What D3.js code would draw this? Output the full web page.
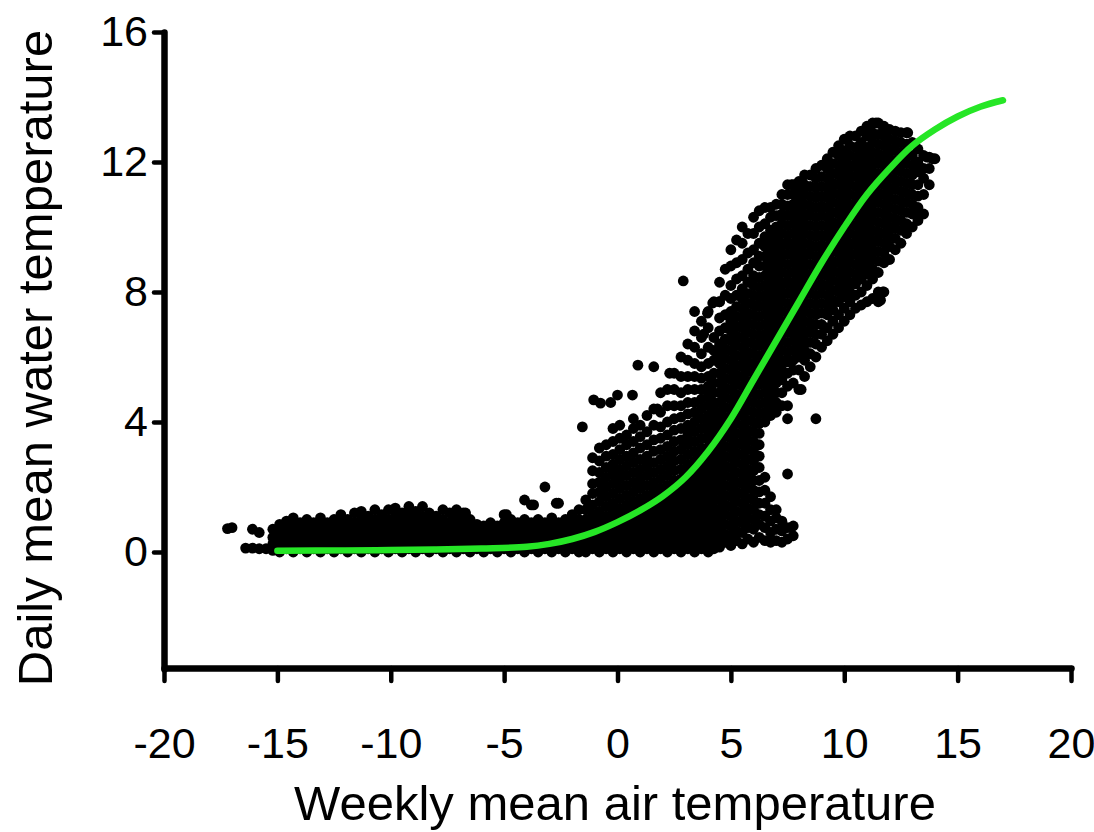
<!DOCTYPE html>
<html><head><meta charset="utf-8">
<script src="https://cdn.jsdelivr.net/npm/d3@7"></script>
<style>body{margin:0;background:#fff}svg{display:block}</style>
</head><body>
<svg id="chart" width="1094" height="832"></svg>
<script>
// Axis ticks
const xTicks = [-20,-15,-10,-5,0,5,10,15,20];
const yTicks = [0,4,8,12,16];

// Fitted curve
const fitAir   = [-15,-12,-10,-8,-6,-4,-3,-2,-1,0,1,2,3,4,5,6,7,8,9,10,11,12,13,14,15,16,17];
const fitWater = [0.04,0.05,0.06,0.08,0.11,0.16,0.25,0.4,0.62,0.92,1.28,1.72,2.3,3.1,4.1,5.3,6.5,7.7,8.9,10.0,11.0,11.8,12.5,13.0,13.4,13.7,13.9];

// Observations, column format: [air temperature, water temperatures...]
const winterCols = [
[-15.2,.05,.25,.45,.7],
[-14.9,0,.2,.4,.6,.85],
[-14.6,.1,.3,.5,.7,.95],
[-14.3,0,.2,.4,.6,.8,1.05],
[-14.0,.1,.3,.5,.7,.9],
[-13.7,0,.2,.4,.6,.8,1.0],
[-13.4,.1,.3,.5,.7,.9],
[-13.1,0,.2,.4,.6,.8,1.05],
[-12.8,.1,.3,.5,.7,.9],
[-12.5,0,.2,.4,.6,.8,1.0],
[-12.2,.1,.3,.5,.7,.9,1.15],
[-11.9,0,.2,.4,.6,.8,1.0],
[-11.6,.1,.3,.5,.7,.9,1.2],
[-11.3,0,.2,.4,.6,.8,1.0,1.25],
[-11.0,.1,.3,.5,.7,.9,1.1],
[-10.7,0,.2,.4,.6,.8,1.0,1.3],
[-10.4,.1,.3,.5,.7,.9,1.15],
[-10.1,0,.2,.4,.6,.8,1.0,1.3],
[-9.8,.1,.3,.5,.7,.9,1.1,1.35],
[-9.5,0,.2,.4,.6,.8,1.0,1.2],
[-9.2,.1,.3,.5,.7,.9,1.15,1.4],
[-8.9,0,.2,.4,.6,.8,1.0,1.25],
[-8.6,.1,.3,.5,.7,.9,1.1,1.4],
[-8.3,0,.2,.4,.6,.8,1.0,1.2],
[-8.0,.1,.3,.5,.7,.9,1.1],
[-7.7,0,.2,.4,.6,.8,1.0,1.3],
[-7.4,.1,.3,.5,.7,.9,1.2],
[-7.1,0,.2,.4,.6,.8,1.05,1.3],
[-6.8,.1,.3,.5,.7,.9,1.2],
[-6.5,0,.2,.4,.6,.8,1.0],
[-6.2,.1,.3,.5,.7,.85],
[-5.9,0,.2,.4,.6,.8],
[-5.6,.1,.3,.5,.7,.9],
[-5.3,0,.2,.4,.6,.8],
[-5.0,.1,.3,.5,.7,.9,1.15],
[-4.7,0,.2,.4,.6,.8,1.0],
[-4.4,.1,.3,.5,.7,.9],
[-4.1,0,.2,.4,.6,.8,1.0,1.6],
[-3.8,.1,.3,.5,.7,.9,1.45],
[-3.5,0,.2,.4,.6,.8,1.0],
[-3.2,.1,.3,.5,.7,.9,2.0],
[-2.9,0,.2,.4,.6,.8,1.05],
[-2.6,.1,.3,.5,.7,.9,1.5],
[-2.3,0,.2,.4,.6,.8,1.0],
[-2.0,.1,.3,.5,.7,.9,1.15],
[-1.7,0,.2,.4,.6,.8,1.0,1.3]
];

const thawCols = [
[-1.4,0,.2,.4,.6,.8,1.0,1.3,1.6],
[-1.1,.1,.3,.5,.7,.9,1.15,1.45,1.8,2.1,2.5,2.9],
[-0.8,0,.2,.4,.6,.8,1.0,1.25,1.55,1.85,2.15,2.45,2.8,3.2],
[-0.5,.1,.3,.5,.7,.9,1.1,1.4,1.7,2.0,2.3,2.6,2.95,3.3],
[-0.2,0,.2,.4,.6,.8,1.0,1.2,1.5,1.8,2.1,2.4,2.7,3.0,3.4,3.8],
[0.1,.1,.3,.5,.7,.9,1.1,1.35,1.65,1.95,2.25,2.55,2.85,3.15,3.5,3.9],
[0.4,0,.2,.4,.6,.8,1.0,1.2,1.45,1.75,2.05,2.35,2.65,2.95,3.3,3.6],
[0.7,.1,.3,.5,.7,.9,1.1,1.3,1.55,1.85,2.15,2.45,2.75,3.05,3.4,3.8,4.1],
[1.0,0,.2,.4,.6,.8,1.0,1.2,1.4,1.65,1.95,2.25,2.55,2.85,3.2,3.55,3.9],
[1.3,.1,.3,.5,.7,.9,1.1,1.3,1.5,1.75,2.05,2.35,2.65,2.95,3.3,3.7,4.2],
[1.6,0,.2,.4,.6,.8,1.0,1.2,1.4,1.6,1.85,2.15,2.45,2.75,3.1,3.45,3.9,4.4],
[1.9,.1,.3,.5,.7,.9,1.1,1.3,1.5,1.7,1.95,2.25,2.55,2.85,3.15,3.5,3.85,4.3,4.9],
[2.2,0,.2,.4,.6,.8,1.0,1.2,1.4,1.6,1.8,2.05,2.35,2.65,2.95,3.25,3.6,4.0,4.5,5.0],
[2.5,.1,.3,.5,.7,.9,1.1,1.3,1.5,1.7,1.95,2.2,2.5,2.8,3.1,3.4,3.75,4.1,4.5,5.0,5.5],
[2.8,0,.2,.4,.6,.8,1.0,1.2,1.4,1.6,1.8,2.0,2.25,2.55,2.85,3.15,3.45,3.8,4.15,4.5,4.9,5.4,6.0],
[3.1,.1,.3,.5,.7,.9,1.1,1.3,1.5,1.7,1.9,2.15,2.4,2.7,3.0,3.3,3.6,3.9,4.25,4.6,5.0,5.4,5.9,6.4],
[3.4,0,.2,.4,.6,.8,1.0,1.2,1.4,1.6,1.8,2.0,2.25,2.5,2.8,3.1,3.4,3.7,4.0,4.3,4.6,5.0,5.4,5.8,6.3,6.8],
[3.7,.1,.3,.5,.7,.9,1.1,1.3,1.5,1.7,1.9,2.1,2.35,2.6,2.9,3.2,3.5,3.8,4.1,4.4,4.7,5.0,5.35,5.7,6.1,6.6,7.1]
];

const summerCols = [
[4.0,0,.2,.45,.7,.95,1.2,1.45,1.7,1.95,2.2,2.45,2.7,2.95,3.2,3.45,3.7,3.95,4.2,4.5,4.8,5.1,5.4,5.8,6.3,6.9,7.4],
[4.25,.1,.35,.6,.85,1.1,1.35,1.6,1.85,2.1,2.35,2.6,2.85,3.1,3.35,3.6,3.85,4.1,4.35,4.6,4.9,5.2,5.5,5.9,6.2,6.6,7.7],
[4.5,.15,.4,.7,1.0,1.3,1.6,1.9,2.2,2.5,2.8,3.1,3.4,3.7,4.0,4.3,4.6,4.9,5.2,5.5,5.8,6.1,6.4,6.8,7.2,7.7,8.3],
[4.75,.3,.55,.85,1.15,1.45,1.75,2.05,2.35,2.65,2.95,3.25,3.55,3.85,4.15,4.45,4.75,5.05,5.35,5.65,5.95,6.25,6.55,6.9,7.3,7.9,8.7],
[5.0,.2,.5,.8,1.1,1.4,1.7,2.0,2.3,2.6,2.9,3.2,3.5,3.8,4.1,4.4,4.7,5.0,5.3,5.6,5.9,6.2,6.5,6.8,7.1,7.4,7.8,8.2,8.8,9.3],
[5.25,.35,.65,.95,1.25,1.55,1.85,2.15,2.45,2.75,3.05,3.35,3.65,3.95,4.25,4.55,4.85,5.15,5.45,5.75,6.05,6.35,6.65,6.95,7.25,7.55,7.9,8.4,8.9,9.6],
[5.5,.25,.6,.9,1.2,1.5,1.8,2.1,2.4,2.7,3.0,3.3,3.6,3.9,4.2,4.5,4.8,5.1,5.4,5.7,6.0,6.3,6.6,6.9,7.2,7.5,7.8,8.1,8.5,9.0,9.5,10.0],
[5.75,.4,.75,1.05,1.35,1.65,1.95,2.25,2.55,2.85,3.15,3.45,3.75,4.05,4.35,4.65,4.95,5.25,5.55,5.85,6.15,6.45,6.75,7.05,7.35,7.65,7.95,8.3,8.7,9.2,9.8],
[6.0,.3,.7,1.0,1.3,1.6,1.9,2.2,2.5,2.8,3.1,3.4,3.7,4.0,4.3,4.6,4.9,5.2,5.5,5.8,6.1,6.4,6.7,7.0,7.3,7.6,7.9,8.2,8.5,8.9,9.3,9.8,10.3],
[6.25,.45,.85,1.15,1.5,1.85,2.2,2.6,2.95,3.3,3.65,3.95,4.25,4.55,4.85,5.15,5.45,5.75,6.05,6.35,6.65,6.95,7.25,7.55,7.85,8.15,8.45,8.8,9.1,9.5,10.0,10.5],
[6.5,.35,.75,1.1,1.5,1.9,2.3,4.0,4.3,4.6,4.9,5.2,5.5,5.8,6.1,6.4,6.7,7.0,7.3,7.6,7.9,8.2,8.5,8.8,9.1,9.4,9.7,10.1,10.6],
[6.75,.3,.6,.95,1.3,1.7,4.2,4.5,4.8,5.1,5.4,5.7,6.0,6.3,6.6,6.9,7.2,7.5,7.8,8.1,8.4,8.7,9.0,9.3,9.6,9.9,10.3,10.6],
[7.0,.35,.7,1.05,1.3,4.3,4.6,4.9,5.2,5.5,5.8,6.1,6.4,6.7,7.0,7.3,7.6,7.9,8.2,8.5,8.8,9.1,9.4,9.7,10.0,10.35,10.7],
[7.25,.3,.65,.95,4.5,4.9,5.3,5.6,5.9,6.2,6.5,6.8,7.1,7.4,7.7,8.0,8.3,8.6,8.9,9.2,9.5,9.8,10.1,10.4,10.7,11.0],
[7.5,.4,.75,2.4,4.1,4.5,5.1,5.5,5.85,6.15,6.45,6.75,7.05,7.35,7.65,7.95,8.25,8.55,8.85,9.15,9.45,9.75,10.05,10.35,10.65,11.0,11.3],
[7.75,.5,.8,5.2,5.6,5.9,6.2,6.5,6.8,7.1,7.4,7.7,8.0,8.3,8.6,8.9,9.2,9.5,9.8,10.1,10.4,10.7,11.0,11.3],
[8.0,5.0,5.6,6.0,6.3,6.6,6.9,7.2,7.5,7.8,8.1,8.4,8.7,9.0,9.3,9.6,9.9,10.2,10.5,10.8,11.1,11.4],
[8.25,5.4,5.9,6.2,6.5,6.8,7.1,7.4,7.7,8.0,8.3,8.6,8.9,9.2,9.5,9.8,10.1,10.4,10.7,11.0,11.3,11.6],
[8.5,5.7,6.1,6.45,6.75,7.05,7.35,7.65,7.95,8.25,8.55,8.85,9.15,9.45,9.75,10.05,10.35,10.65,10.95,11.25,11.6],
[8.75,4.1,6.0,6.4,6.7,7.0,7.3,7.6,7.9,8.2,8.5,8.8,9.1,9.4,9.7,10.0,10.3,10.6,10.9,11.2,11.5,11.8],
[9.0,6.3,6.7,7.0,7.35,7.65,7.95,8.25,8.55,8.85,9.15,9.45,9.75,10.05,10.35,10.65,10.95,11.25,11.55,11.9],
[9.25,6.5,6.9,7.3,7.6,7.9,8.2,8.5,8.8,9.1,9.4,9.7,10.0,10.3,10.6,10.9,11.2,11.5,11.8,12.1],
[9.5,6.7,7.1,7.45,7.75,8.05,8.35,8.65,8.95,9.25,9.55,9.85,10.15,10.45,10.75,11.05,11.35,11.65,11.95,12.3],
[9.75,6.9,7.3,7.7,8.0,8.3,8.6,8.9,9.2,9.5,9.8,10.1,10.4,10.7,11.0,11.3,11.6,11.9,12.2,12.5],
[10.0,7.1,7.5,7.85,8.15,8.45,8.75,9.05,9.35,9.65,9.95,10.25,10.55,10.85,11.15,11.45,11.75,12.05,12.35,12.7],
[10.25,7.3,7.7,8.0,8.3,8.6,8.9,9.2,9.5,9.8,10.1,10.4,10.7,11.0,11.3,11.6,11.9,12.2,12.5,12.8],
[10.5,7.5,7.9,8.25,8.55,8.85,9.15,9.45,9.75,10.05,10.35,10.65,10.95,11.25,11.55,11.85,12.15,12.45,12.8],
[10.75,7.6,8.0,8.4,8.7,9.0,9.3,9.6,9.9,10.2,10.5,10.8,11.1,11.4,11.7,12.0,12.3,12.6,12.95],
[11.0,7.7,8.2,8.55,8.85,9.15,9.45,9.75,10.05,10.35,10.65,10.95,11.25,11.55,11.85,12.15,12.45,12.8,13.1],
[11.25,7.8,8.4,8.7,9.0,9.3,9.6,9.9,10.2,10.5,10.8,11.1,11.4,11.7,12.0,12.3,12.6,12.9,13.2],
[11.5,7.7,8.0,8.6,8.95,9.25,9.55,9.85,10.15,10.45,10.75,11.05,11.35,11.65,11.95,12.25,12.55,12.85,13.2],
[11.75,8.0,8.9,9.2,9.5,9.8,10.1,10.4,10.7,11.0,11.3,11.6,11.9,12.2,12.5,12.8,13.1],
[12.0,9.0,9.4,9.7,10.0,10.3,10.6,10.9,11.2,11.5,11.8,12.1,12.4,12.7,13.0],
[12.25,9.3,9.65,9.95,10.25,10.55,10.85,11.15,11.45,11.75,12.05,12.35,12.65,12.95],
[12.5,9.5,9.9,10.2,10.5,10.8,11.1,11.4,11.7,12.0,12.3,12.6,12.9],
[12.75,9.8,10.1,10.45,10.75,11.05,11.35,11.65,11.95,12.25,12.55,12.9],
[13.0,10.0,10.4,10.7,11.0,11.3,11.6,11.9,12.2,12.6],
[13.25,10.2,10.6,10.95,11.3,11.7,12.0,12.4],
[13.5,10.4,11.0,11.5,11.8,12.2],
[13.75,11.3,11.8,12.15],
[14.0,12.1]
];

// Scattered single observations [air, water]
const isolatedObs = [
[-17.2,.72],[-17.0,.75],[-16.1,.7],[-15.8,.6],[-16.4,.12],[-16.1,.12],[-15.8,.1],[-15.5,.1],
[-6.7,1.2],[-4.9,1.15],[-2.7,1.5],[-3.7,1.45],
[-1.55,3.85],[-1.05,4.68],[-0.75,4.58],[-0.3,4.6],[0,4.83],[0.66,4.83],[0.9,5.75],[1.6,5.7],
[1.76,4.4],[2.3,5.5],[2.9,8.34],[3.4,7.4],[3.97,7.35],[4.2,7.66],[4.5,7.7],[3.8,6.7],
[7.67,11.3],[8.1,5.0],[13.4,10.4],[13.65,12.15],[13.9,12.1],[12.8,12.9],[11.7,13.1],[11.4,13.2],
[11.6,7.75],[11.7,8.0]
];

const W = 1094, H = 832;
const svg = d3.select('#chart');
svg.append('rect').attr('width', W).attr('height', H).attr('fill', '#fff');

const x = d3.scaleLinear().domain([-20, 20]).range([164, 1071]);
const y = d3.scaleLinear().domain([-3.6, 16]).range([669, 32]);

const expand = cols => cols.flatMap(([cx, ...ys]) => ys.map(v => [cx, v]));
const points = [...expand(winterCols), ...expand(thawCols), ...expand(summerCols), ...isolatedObs];

svg.append('g').selectAll('circle').data(points).join('circle')
  .attr('cx', d => x(d[0])).attr('cy', d => y(d[1]))
  .attr('r', 5.4).attr('fill', '#000');

svg.append('path')
  .datum(d3.zip(fitAir, fitWater))
  .attr('d', d3.line().x(d => x(d[0])).y(d => y(d[1])).curve(d3.curveCatmullRom.alpha(0.5)))
  .attr('fill', 'none').attr('stroke', '#26e626').attr('stroke-width', 6.5)
  .attr('stroke-linecap', 'round');

const font = "'Liberation Sans', Arial, sans-serif";

const gx = svg.append('g').attr('transform', 'translate(0,668)')
  .call(d3.axisBottom(x).tickValues(xTicks).tickSize(13).tickSizeOuter(0).tickPadding(46)
        .tickFormat(d3.format('d')));
const gy = svg.append('g').attr('transform', 'translate(164,0)')
  .call(d3.axisLeft(y).tickValues(yTicks).tickSize(10).tickSizeOuter(0).tickPadding(6)
        .tickFormat(d3.format('d')));

[gx, gy].forEach(g => {
  g.select('.domain').attr('stroke', '#000').attr('stroke-width', 6.5).attr('stroke-linecap', 'round');
  g.selectAll('.tick line').attr('stroke', '#000').attr('stroke-width', 4.5).attr('stroke-linecap', 'round');
  g.selectAll('.tick text').attr('fill', '#000').style('font-family', font).style('font-size', '43px');
});
gx.selectAll('.tick text').text(d => d < 0 ? '-' + Math.abs(d) : d);

svg.append('text').attr('x', 615).attr('y', 820).attr('text-anchor', 'middle')
  .style('font-family', font).style('font-size', '49px').attr('fill', '#000')
  .text('Weekly mean air temperature');

svg.append('text').attr('transform', 'translate(52,358) rotate(-90)').attr('text-anchor', 'middle')
  .style('font-family', font).style('font-size', '49px').attr('fill', '#000')
  .text('Daily mean water temperature');
</script>
</body></html>
